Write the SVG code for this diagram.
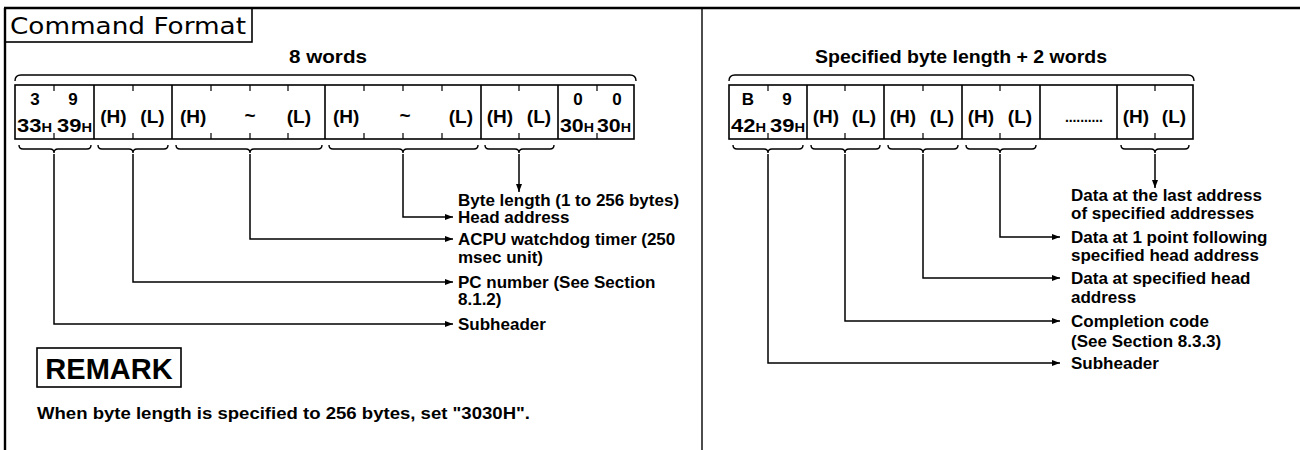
<svg xmlns="http://www.w3.org/2000/svg" width="1300" height="450" viewBox="0 0 1300 450">
<style>
text{font-family:"Liberation Sans",Arial,sans-serif;fill:#000}
.lbl{font-size:17px;font-weight:bold}
.cel{font-size:19px;font-weight:bold}
.dig{font-size:17px;font-weight:bold;text-anchor:middle}
.hx{font-size:18px;font-weight:bold}
.hs{font-size:12px}
.hdr{font-size:19px;font-weight:bold;text-anchor:middle}
.box{fill:none;stroke:#000;stroke-width:1.6}
.tk{stroke:#000;stroke-width:1.2}
.br{fill:none;stroke:#000;stroke-width:1.4}
.cna{fill:none;stroke:#000;stroke-width:1.5;marker-end:url(#ah)}
</style>
<defs>
<marker id="ah" markerUnits="userSpaceOnUse" markerWidth="9" markerHeight="7" refX="8" refY="3.5" orient="auto"><path d="M0,0.5 L8,3.5 L0,6.5 z" fill="#000"/></marker>
</defs>
<g id="frame">
<line x1="4" y1="8" x2="1300" y2="8" stroke="#000" stroke-width="2.6"/>
<line x1="5" y1="8" x2="5" y2="450" stroke="#000" stroke-width="2.4"/>
<line x1="702" y1="8" x2="702" y2="450" stroke="#000" stroke-width="1.4"/>
</g>
<g id="title">
<rect class="box" x="5" y="8" width="247" height="34"/>
<text x="10" y="34" style="font-family:'DejaVu Sans',sans-serif;font-size:23px" textLength="236" lengthAdjust="spacingAndGlyphs">Command Format</text>
</g>
<g id="left-frame">
<text class="hdr" x="328" y="63" textLength="78" lengthAdjust="spacingAndGlyphs">8 words</text>
<path class="br" d="M15,81 Q15,75 21,75 H630 Q636,75 636,81"/>
<rect class="box" x="15" y="85" width="619" height="54"/>
<path class="box" d="M94,85 V139 M172,85 V139 M325,85 V139 M481,85 V139 M558,85 V139"/>
<path class="tk" d="M54,85 v6 M54,133 v6 M133,85 v6 M133,133 v6 M211,85 v6 M211,133 v6 M250,85 v6 M250,133 v6 M288,85 v6 M288,133 v6 M364,85 v6 M364,133 v6 M403,85 v6 M403,133 v6 M442,85 v6 M442,133 v6 M519,85 v6 M519,133 v6 M597,85 v6 M597,133 v6"/>
<text class="dig" x="35" y="105">3</text>
<text class="dig" x="73" y="105">9</text>
<text class="hx" x="17" y="132" textLength="35" lengthAdjust="spacingAndGlyphs">33<tspan class="hs">H</tspan></text>
<text class="hx" x="57" y="132" textLength="35" lengthAdjust="spacingAndGlyphs">39<tspan class="hs">H</tspan></text>
<text class="cel" x="113.5" y="123" text-anchor="middle">(H)</text>
<text class="cel" x="152.5" y="123" text-anchor="middle">(L)</text>
<text class="cel" x="180" y="123">(H)</text>
<text class="cel" x="250" y="122" text-anchor="middle">~</text>
<text class="cel" x="311" y="123" text-anchor="end">(L)</text>
<text class="cel" x="333" y="123">(H)</text>
<text class="cel" x="405" y="122" text-anchor="middle">~</text>
<text class="cel" x="473" y="123" text-anchor="end">(L)</text>
<text class="cel" x="500" y="123" text-anchor="middle">(H)</text>
<text class="cel" x="539" y="123" text-anchor="middle">(L)</text>
<text class="dig" x="578" y="105">0</text>
<text class="dig" x="617" y="105">0</text>
<text class="hx" x="560" y="132" textLength="34" lengthAdjust="spacingAndGlyphs">30<tspan class="hs">H</tspan></text>
<text class="hx" x="597" y="132" textLength="34" lengthAdjust="spacingAndGlyphs">30<tspan class="hs">H</tspan></text>
<path class="br" d="M19,145 Q19,149 23,149 H50 Q54,149 54,153 Q54,149 58,149 H87 Q91,149 91,145"/>
<path class="br" d="M98,145 Q98,149 102,149 H129 Q133,149 133,153 Q133,149 137,149 H164 Q168,149 168,145"/>
<path class="br" d="M176,145 Q176,149 180,149 H246 Q250,149 250,153 Q250,149 254,149 H318 Q322,149 322,145"/>
<path class="br" d="M329,145 Q329,149 333,149 H399 Q403,149 403,153 Q403,149 407,149 H474 Q478,149 478,145"/>
<path class="br" d="M485,145 Q485,149 489,149 H515 Q519,149 519,153 Q519,149 523,149 H550 Q554,149 554,145"/>
</g>
<g id="left-labels">
<text class="lbl" x="458" y="206">Byte length (1 to 256 bytes)</text>
<text class="lbl" x="458" y="223">Head address</text>
<text class="lbl" x="458" y="245">ACPU watchdog timer (250</text>
<text class="lbl" x="458" y="263">msec unit)</text>
<text class="lbl" x="458" y="288">PC number (See Section</text>
<text class="lbl" x="458" y="305">8.1.2)</text>
<text class="lbl" x="458" y="330">Subheader</text>
</g>
<g id="remark">
<rect class="box" x="37" y="348" width="144" height="39"/>
<text x="109" y="379" text-anchor="middle" style="font-size:29px;font-weight:bold">REMARK</text>
<text class="lbl" x="37" y="419" textLength="493" lengthAdjust="spacingAndGlyphs">When byte length is specified to 256 bytes, set "3030H".</text>
</g>
<g id="right-frame">
<text class="hdr" x="961" y="63" textLength="292" lengthAdjust="spacingAndGlyphs">Specified byte length + 2 words</text>
<path class="br" d="M729,81 Q729,75 735,75 H1188 Q1194,75 1194,81"/>
<rect class="box" x="729" y="85" width="464" height="54"/>
<path class="box" d="M807,85 V139 M884,85 V139 M962,85 V139 M1040,85 V139 M1117,85 V139"/>
<path class="tk" d="M768,85 v6 M768,133 v6 M845,85 v6 M845,133 v6 M923,85 v6 M923,133 v6 M1000,85 v6 M1000,133 v6 M1155,85 v6 M1155,133 v6"/>
<text class="dig" x="748" y="105">B</text>
<text class="dig" x="787" y="105">9</text>
<text class="hx" x="731" y="132" textLength="35" lengthAdjust="spacingAndGlyphs">42<tspan class="hs">H</tspan></text>
<text class="hx" x="770" y="132" textLength="35" lengthAdjust="spacingAndGlyphs">39<tspan class="hs">H</tspan></text>
<text class="cel" x="826" y="123" text-anchor="middle">(H)</text>
<text class="cel" x="864" y="123" text-anchor="middle">(L)</text>
<text class="cel" x="903" y="123" text-anchor="middle">(H)</text>
<text class="cel" x="942" y="123" text-anchor="middle">(L)</text>
<text class="cel" x="981" y="123" text-anchor="middle">(H)</text>
<text class="cel" x="1020" y="123" text-anchor="middle">(L)</text>
<text x="1084" y="122" text-anchor="middle" style="font-size:14px;font-weight:bold" textLength="38">..........</text>
<text class="cel" x="1136" y="123" text-anchor="middle">(H)</text>
<text class="cel" x="1174" y="123" text-anchor="middle">(L)</text>
<path class="br" d="M733,145 Q733,149 737,149 H764 Q768,149 768,153 Q768,149 772,149 H799 Q803,149 803,145"/>
<path class="br" d="M811,145 Q811,149 815,149 H841 Q845,149 845,153 Q845,149 849,149 H876 Q880,149 880,145"/>
<path class="br" d="M888,145 Q888,149 892,149 H919 Q923,149 923,153 Q923,149 927,149 H954 Q958,149 958,145"/>
<path class="br" d="M966,145 Q966,149 970,149 H996 Q1000,149 1000,153 Q1000,149 1004,149 H1032 Q1036,149 1036,145"/>
<path class="br" d="M1121,145 Q1121,149 1125,149 H1151 Q1155,149 1155,153 Q1155,149 1159,149 H1185 Q1189,149 1189,145"/>
</g>
<g id="right-labels">
<text class="lbl" x="1071" y="201">Data at the last address</text>
<text class="lbl" x="1071" y="219">of specified addresses</text>
<text class="lbl" x="1071" y="243">Data at 1 point following</text>
<text class="lbl" x="1071" y="261">specified head address</text>
<text class="lbl" x="1071" y="284">Data at specified head</text>
<text class="lbl" x="1071" y="303">address</text>
<text class="lbl" x="1071" y="327">Completion code</text>
<text class="lbl" x="1071" y="347">(See Section 8.3.3)</text>
<text class="lbl" x="1071" y="369">Subheader</text>
</g>
<g id="connectors">
<path class="cna" d="M54,154 V324 H453"/>
<path class="cna" d="M133,154 V282 H453"/>
<path class="cna" d="M250,154 V239 H453"/>
<path class="cna" d="M403,154 V217 H453"/>
<path class="cna" d="M519,154 V192"/>
<path class="cna" d="M768,154 V363 H1060"/>
<path class="cna" d="M845,154 V321 H1060"/>
<path class="cna" d="M923,154 V278 H1060"/>
<path class="cna" d="M1000,154 V237 H1060"/>
<path class="cna" d="M1155,154 V188"/>
</g>
</svg>
